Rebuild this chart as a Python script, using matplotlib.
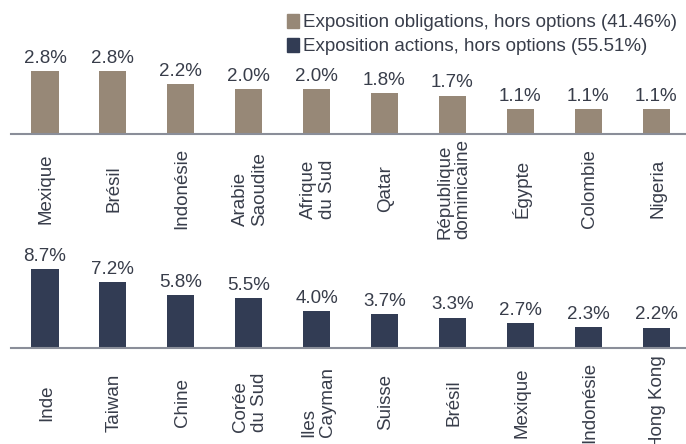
import matplotlib
matplotlib.use('Agg')
import matplotlib.pyplot as plt
from matplotlib.patches import Patch

# data
bond_countries = ['Mexique', 'Brésil', 'Indonésie', 'Arabie\nSaoudite', 'Afrique\ndu Sud',
                  'Qatar', 'République\ndominicaine', 'Égypte', 'Colombie', 'Nigeria']
bond_values = [2.8, 2.8, 2.2, 2.0, 2.0, 1.8, 1.7, 1.1, 1.1, 1.1]

equity_countries = ['Inde', 'Taiwan', 'Chine', 'Corée\ndu Sud', 'Iles\nCayman',
                    'Suisse', 'Brésil', 'Mexique', 'Indonésie', 'Hong Kong']
equity_values = [8.7, 7.2, 5.8, 5.5, 4.0, 3.7, 3.3, 2.7, 2.3, 2.2]

legend_labels = ['Exposition obligations, hors options (41.46%)',
                 'Exposition actions, hors options (55.51%)']

bond_color = '#978877'
equity_color = '#323c54'
text_color = '#383d4a'
axis_color = '#8a8e99'
fs = 13.5

plt.rcParams['font.family'] = ['Liberation Sans', 'DejaVu Sans']

W, H = 686, 444
fig = plt.figure(figsize=(W / 100, H / 100), dpi=100)


def panel(bottom_px, top_px, values, labels, color, px_per_unit):
    ax = fig.add_axes([11 / W, (H - bottom_px) / H, 1 - 11 / W, (bottom_px - top_px) / H])
    x = range(len(values))
    ax.bar(x, values, width=0.4, color=color)
    ax.set_xlim(-0.5, 9.44)
    ax.set_ylim(0, (bottom_px - top_px) / px_per_unit)
    for s in ['top', 'right', 'left']:
        ax.spines[s].set_visible(False)
    ax.spines['bottom'].set_color(axis_color)
    ax.spines['bottom'].set_linewidth(1.5)
    ax.set_xticks([])
    ax.set_yticks([])
    ax.patch.set_alpha(0)
    for i, v in enumerate(values):
        ax.annotate(f'{v:.1f}%', xy=(i, v), xytext=(0, 3), textcoords='offset points',
                    ha='center', va='bottom', fontsize=fs, color=text_color)
        ax.annotate(labels[i], xy=(i, 0), xycoords=('data', 'axes fraction'),
                    xytext=(1, -39.5), textcoords='offset points', rotation=90,
                    ha='center', va='center', multialignment='left',
                    fontsize=fs, color=text_color, linespacing=1.1,
                    annotation_clip=False)
    return ax


panel(134, 20, bond_values, bond_countries, bond_color, 22.6)
panel(347.5, 250, equity_values, equity_countries, equity_color, 9.05)

handles = [Patch(color=bond_color), Patch(color=equity_color)]
fig.legend(handles, legend_labels, loc='upper left', bbox_to_anchor=(287 / W, 1 - 14 / H),
           frameon=False, fontsize=fs, handlelength=0.62, handleheight=0.75,
           handletextpad=0.25, labelspacing=0.35, borderpad=0, borderaxespad=0,
           labelcolor=text_color)

fig.savefig('out.png', dpi=100)
